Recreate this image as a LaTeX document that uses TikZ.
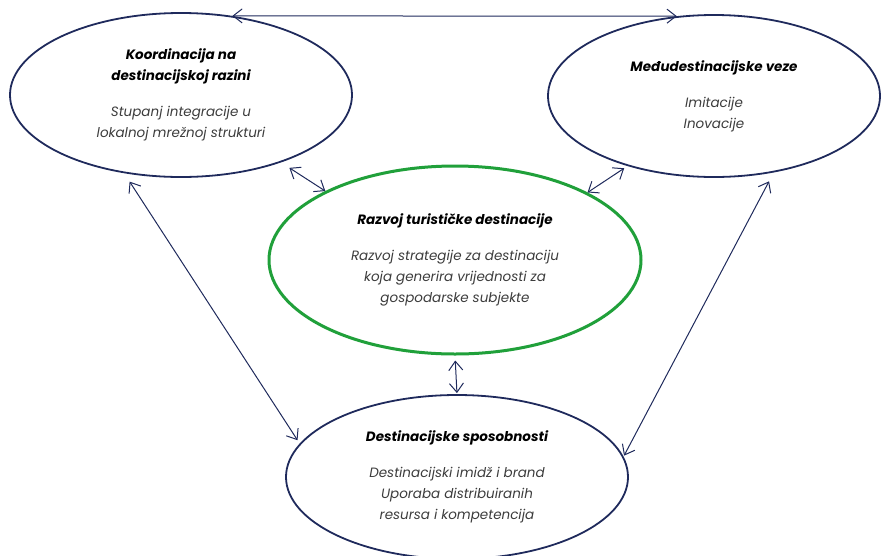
\documentclass[tikz,border=0pt]{standalone}
\usepackage{fontspec}
\setmainfont{Poppins}
\usepackage{xcolor}
\usepackage{tikz}
\usetikzlibrary{shapes,arrows.meta}
\definecolor{navy}{HTML}{1F2A5C}
\definecolor{leafgreen}{HTML}{20A03A}
\definecolor{bodygray}{HTML}{3C3C3C}
\tikzstyle{bubble}=[ellipse,draw=navy,line width=1.8pt,align=center,inner sep=0pt,font=\fontsize{13.5}{21}\selectfont]
\tikzstyle{hub}=[bubble,draw=leafgreen,line width=3pt]
\tikzstyle{link}=[draw,navy,line width=1pt,{Straight Barb[length=9pt,width=14pt]}-{Straight Barb[length=9pt,width=14pt]}]
\newcommand{\heading}[1]{{\bfseries\itshape\color{black}#1}}
\newcommand{\bodytext}[1]{{\itshape\color{bodygray}#1}}

\begin{document}
\begin{tikzpicture}[x=1pt,y=-1pt]

 \useasboundingbox (0,0) rectangle (881,555);

 %bubbles
 \node[bubble,minimum width=342pt,minimum height=164pt] (koord) at (181,95)
   {\heading{Koordinacija na}\\\heading{destinacijskoj razini}\\[15pt]\bodytext{Stupanj integracije u}\\\bodytext{lokalnoj mrežnoj strukturi}};

 \node[bubble,minimum width=332pt,minimum height=162pt] (medju) at (714,96)
   {\heading{Međudestinacijske veze}\\[15pt]\bodytext{Imitacije}\\\bodytext{Inovacije}};

 \node[hub,minimum width=372pt,minimum height=188pt] (razvoj) at (455,260)
   {\heading{Razvoj turističke destinacije}\\[15pt]\bodytext{Razvoj strategije za destinaciju}\\\bodytext{koja generira vrijednosti za}\\\bodytext{gospodarske subjekte}};

 \node[bubble,minimum width=342pt,minimum height=164pt] (sposob) at (457,477)
   {\heading{Destinacijske sposobnosti}\\[15pt]\bodytext{Destinacijski imidž i brand}\\\bodytext{Uporaba distribuiranih}\\\bodytext{resursa i kompetencija}};

 %links
  \foreach \source/ \dest /\sa/\sb in {koord.57/medju.115/0/0, koord.-34/razvoj.152/10/0, medju.-141/razvoj.27/4/0}
         \path[link,shorten <=\sa pt,shorten >=\sb pt] (\source) -- (\dest);

  \foreach \source/ \dest /\sa/\sb in {razvoj.south/sposob.north/5/1, koord.-126/sposob.168/10/4, medju.-52/sposob.7/10/1}
         \path[link,shorten <=\sa pt,shorten >=\sb pt] (\source) -- (\dest);

\end{tikzpicture}
\end{document}
